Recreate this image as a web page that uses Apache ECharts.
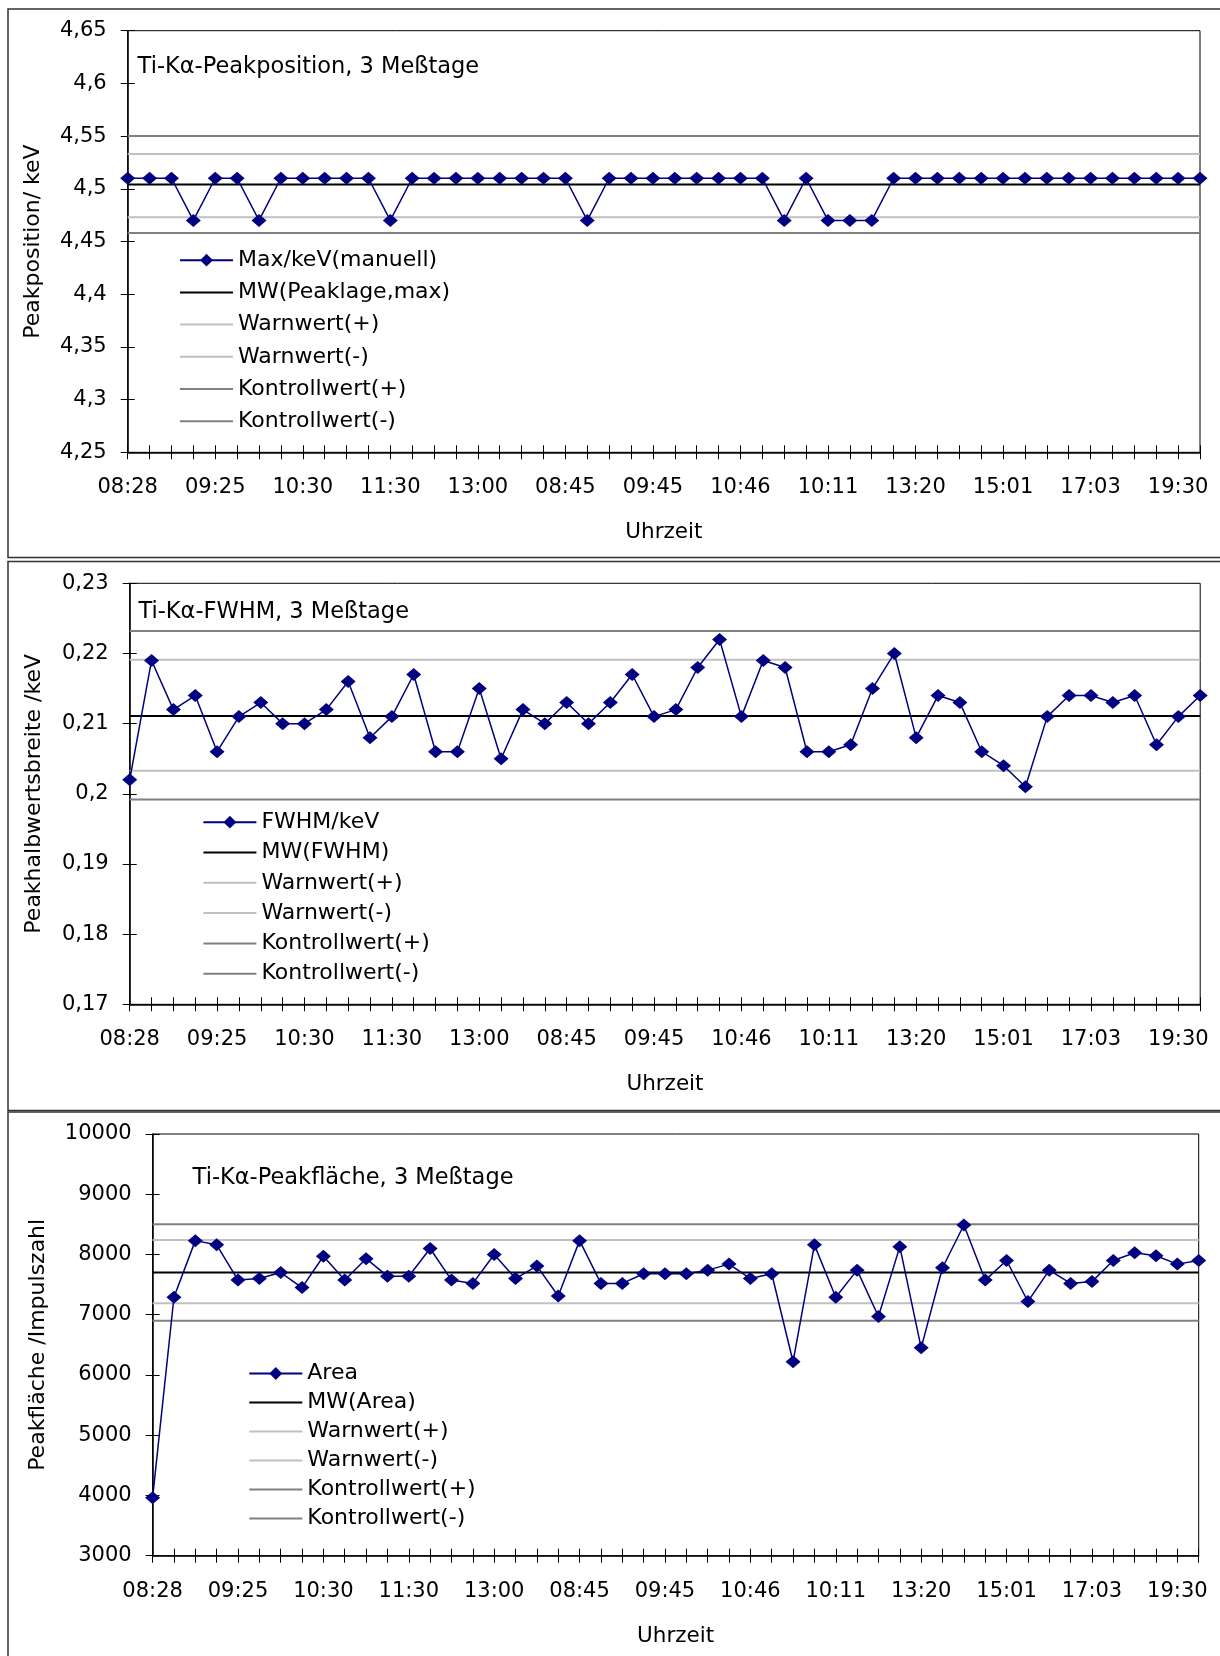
<!DOCTYPE html>
<html>
<head>
<meta charset="utf-8">
<title>Ti-Kα Kontrollkarten</title>
<script src="https://cdn.jsdelivr.net/npm/echarts@6/dist/echarts.min.js"></script>
<style>
  html, body { margin: 0; padding: 0; background: #fff; }
  #c { width: 1220px; height: 1656px; }
</style>
</head>
<body>
<div id="c"></div>
<script>
// Beschriftete Uhrzeiten (jede vierte Messung)
const timeLabels = ['08:28', '09:25', '10:30', '11:30', '13:00', '08:45', '09:45',
                    '10:46', '10:11', '13:20', '15:01', '17:03', '19:30'];

// Peakposition Ti-Kα in keV (manuell bestimmt)
const peakPos = [
  4.51, 4.51, 4.51, 4.47, 4.51, 4.51, 4.47, 4.51, 4.51, 4.51,
  4.51, 4.51, 4.47, 4.51, 4.51, 4.51, 4.51, 4.51, 4.51, 4.51,
  4.51, 4.47, 4.51, 4.51, 4.51, 4.51, 4.51, 4.51, 4.51, 4.51,
  4.47, 4.51, 4.47, 4.47, 4.47, 4.51, 4.51, 4.51, 4.51, 4.51,
  4.51, 4.51, 4.51, 4.51, 4.51, 4.51, 4.51, 4.51, 4.51, 4.51
];
const peakPosLimits = { mw: 4.504, warnPlus: 4.533, warnMinus: 4.473, kontrPlus: 4.55, kontrMinus: 4.458 };

// Halbwertsbreite (FWHM) in keV
const fwhm = [
  0.202, 0.219, 0.212, 0.214, 0.206, 0.211, 0.213, 0.210, 0.210, 0.212,
  0.216, 0.208, 0.211, 0.217, 0.206, 0.206, 0.215, 0.205, 0.212, 0.210,
  0.213, 0.210, 0.213, 0.217, 0.211, 0.212, 0.218, 0.222, 0.211, 0.219,
  0.218, 0.206, 0.206, 0.207, 0.215, 0.220, 0.208, 0.214, 0.213, 0.206,
  0.204, 0.201, 0.211, 0.214, 0.214, 0.213, 0.214, 0.207, 0.211, 0.214
];
const fwhmLimits = { mw: 0.2111, warnPlus: 0.2191, warnMinus: 0.2033, kontrPlus: 0.2232, kontrMinus: 0.1992 };

// Peakfläche (Impulszahl)
const area = [
  3960, 7290, 8230, 8160, 7575, 7600, 7700, 7450, 7970, 7575,
  7930, 7640, 7640, 8100, 7575, 7520, 8000, 7600, 7810, 7310,
  8230, 7520, 7520, 7680, 7680, 7680, 7740, 7840, 7600, 7680,
  6220, 8160, 7290, 7740, 6970, 8130, 6450, 7780, 8490, 7575,
  7900, 7220, 7740, 7520, 7550, 7900, 8030, 7980, 7840, 7900
];
const areaLimits = { mw: 7700, warnPlus: 8240, warnMinus: 7190, kontrPlus: 8500, kontrMinus: 6900 };

// Messungsnummern als Kategorien
const categories = peakPos.map((_, i) => String(i + 1));

const FONT = 'DejaVu Sans';
const C_DATA = '#000080';
const C_MW = '#000000';
const C_WARN = '#c0c0c0';
const C_KONTR = '#808080';

const panels = [
  {
    grid: { left: 127.7, top: 30.7, width: 1072.3, height: 421.6 },
    yMin: 4.25, yMax: 4.65, yStep: 0.05, decimals: 2,
    yName: 'Peakposition/ keV', yNameGap: 83.5,
    title: 'Ti-Kα-Peakposition, 3 Meßtage', titleLeft: 137.6, titleTop: 55.5,
    legendLeft: 179, legendTop: 249.2, legendGap: 10.2,
    dataName: 'Max/keV(manuell)', mwName: 'MW(Peaklage,max)',
    values: peakPos, limits: peakPosLimits
  },
  {
    grid: { left: 129.7, top: 583.3, width: 1070.5, height: 421 },
    yMin: 0.17, yMax: 0.23, yStep: 0.01, decimals: 2,
    yName: 'Peakhalbwertsbreite /keV', yNameGap: 84,
    title: 'Ti-Kα-FWHM, 3 Meßtage', titleLeft: 138.4, titleTop: 600.5,
    legendLeft: 202.4, legendTop: 811.2, legendGap: 8.3,
    dataName: 'FWHM/keV', mwName: 'MW(FWHM)',
    values: fwhm, limits: fwhmLimits
  },
  {
    grid: { left: 152.6, top: 1134, width: 1046.1, height: 421.7 },
    yMin: 3000, yMax: 10000, yStep: 1000, decimals: 0,
    yName: 'Peakfläche /Impulszahl', yNameGap: 103,
    title: 'Ti-Kα-Peakfläche, 3 Meßtage', titleLeft: 192.6, titleTop: 1166.5,
    legendLeft: 248.3, legendTop: 1362.5, legendGap: 7.0,
    dataName: 'Area', mwName: 'MW(Area)',
    values: area, limits: areaLimits
  }
];

const fmtNum = (v, d) => String(parseFloat(Number(v).toFixed(d))).replace('.', ',');

const grids = [], xAxes = [], yAxes = [], series = [], titles = [], legends = [], frames = [];
const tickStyle = { color: '#000', width: 1 };

panels.forEach((p, k) => {
  grids.push(Object.assign({ show: true, borderColor: '#000', borderWidth: 1,
    backgroundColor: 'transparent', containLabel: false, outerBoundsMode: 'none' }, p.grid));

  // Hauptachse X mit Beschriftung, Striche nach außen
  xAxes.push({
    type: 'category', gridIndex: k, data: categories, boundaryGap: false, position: 'bottom',
    axisLine: { show: true, lineStyle: { color: '#000', width: 1.5 } },
    axisTick: { show: true, interval: 0, length: 7, lineStyle: tickStyle },
    axisLabel: {
      interval: 3, margin: 25, color: '#000', fontFamily: FONT, fontSize: 21,
      formatter: (val, idx) => timeLabels[idx / 4] || ''
    },
    splitLine: { show: false },
    name: 'Uhrzeit', nameLocation: 'middle', nameGap: 69.5,
    nameTextStyle: { color: '#000', fontFamily: FONT, fontSize: 21.5 }
  });
  // zweite X-Achse: Striche nach innen (Kreuzstriche)
  xAxes.push({
    type: 'category', gridIndex: k, data: categories, boundaryGap: false, position: 'bottom',
    axisLine: { show: false }, axisLabel: { show: false }, splitLine: { show: false },
    axisTick: { show: true, inside: true, interval: 0, length: 7, lineStyle: tickStyle }
  });

  yAxes.push({
    type: 'value', gridIndex: k, min: p.yMin, max: p.yMax, interval: p.yStep, position: 'left',
    axisLine: { show: true, lineStyle: { color: '#000', width: 1.5 } },
    axisTick: { show: true, length: 7, lineStyle: tickStyle },
    axisLabel: { margin: 21, color: '#000', fontFamily: FONT, fontSize: 21,
      formatter: v => fmtNum(v, p.decimals) },
    splitLine: { show: false },
    name: p.yName, nameLocation: 'middle', nameRotate: 90, nameGap: p.yNameGap,
    nameTextStyle: { color: '#000', fontFamily: FONT, fontSize: 22 }
  });
  yAxes.push({
    type: 'value', gridIndex: k, min: p.yMin, max: p.yMax, interval: p.yStep, position: 'left',
    axisLine: { show: false }, axisLabel: { show: false }, splitLine: { show: false },
    axisTick: { show: true, inside: true, length: 7, lineStyle: tickStyle }
  });

  const xi = 2 * k, yi = 2 * k;
  const refLine = (name, value, color) => ({
    type: 'line', name, xAxisIndex: xi, yAxisIndex: yi,
    data: categories.map(() => value),
    symbol: 'circle', showSymbol: false, silent: true, z: 2,
    itemStyle: { color: 'rgba(0,0,0,0)', borderColor: 'rgba(0,0,0,0)', borderWidth: 0 },
    lineStyle: { color, width: 2 }
  });
  const L = p.limits;
  series.push(refLine('Kontrollwert(+)', L.kontrPlus, C_KONTR));
  series.push(refLine('Kontrollwert(-)', L.kontrMinus, C_KONTR));
  series.push(refLine('Warnwert(+)', L.warnPlus, C_WARN));
  series.push(refLine('Warnwert(-)', L.warnMinus, C_WARN));
  series.push(refLine(p.mwName, L.mw, C_MW));
  series.push({
    type: 'line', name: p.dataName, xAxisIndex: xi, yAxisIndex: yi, data: p.values,
    symbol: 'diamond', symbolSize: [15, 13], showSymbol: true, silent: true, z: 3,
    itemStyle: { color: C_DATA },
    lineStyle: { color: C_DATA, width: 1.5 }
  });

  titles.push({
    text: p.title, left: p.titleLeft, top: p.titleTop, padding: 0,
    textStyle: { color: '#000', fontFamily: FONT, fontSize: 22.5, fontWeight: 'normal' }
  });

  legends.push({
    orient: 'vertical', left: p.legendLeft, top: p.legendTop, padding: 0,
    itemWidth: 53, itemHeight: 16, itemGap: p.legendGap, selectedMode: false,
    textStyle: { color: '#000', fontFamily: FONT, fontSize: 22 },
    data: [p.dataName, p.mwName, 'Warnwert(+)', 'Warnwert(-)', 'Kontrollwert(+)', 'Kontrollwert(-)']
  });
});

// Rahmen der drei Diagrammbereiche
const frameBoxes = [
  { x: 8, y: 9, width: 1240, height: 548.5 },
  { x: 8, y: 561.5, width: 1240, height: 549 },
  { x: 8, y: 1112, width: 1240, height: 600 }
];
frameBoxes.forEach(b => frames.push({
  type: 'rect', silent: true, z: 0,
  shape: b, style: { fill: 'none', stroke: '#333', lineWidth: 1.5 }
}));

const chart = echarts.init(document.getElementById('c'), null, { renderer: 'canvas', width: 1220, height: 1656 });
chart.setOption({
  animation: false,
  backgroundColor: '#fff',
  textStyle: { fontFamily: FONT },
  title: titles,
  legend: legends,
  grid: grids,
  xAxis: xAxes,
  yAxis: yAxes,
  series: series,
  graphic: frames
});
</script>
</body>
</html>
